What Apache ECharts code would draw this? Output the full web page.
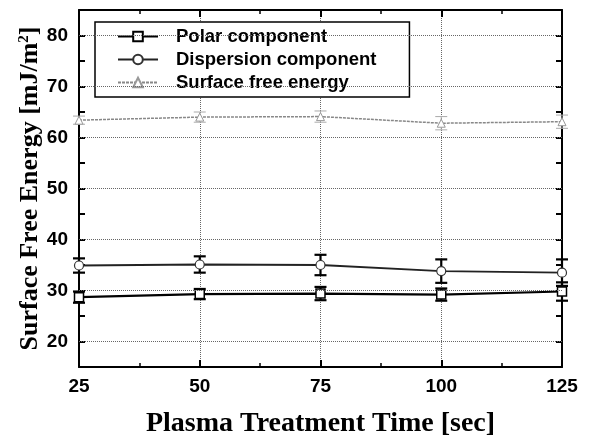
<!DOCTYPE html>
<html><head><meta charset="utf-8">
<script src="https://cdn.jsdelivr.net/npm/echarts@6/dist/echarts.min.js"></script>
<style>html,body{margin:0;padding:0;background:#fff}#c{width:599px;height:439px}</style>
</head><body><div id="c"></div>
<script>
const times = [25, 50, 75, 100, 125];
const polar = [28.7, 29.3, 29.4, 29.2, 29.8];
const polarErr = [1.1, 1.0, 1.3, 1.2, 1.8];
const dispersion = [34.9, 35.1, 35.0, 33.8, 33.5];
const dispersionErr = [1.4, 1.6, 2.0, 2.3, 2.6];
const surface = [63.4, 64.0, 64.1, 62.8, 63.1];
const surfaceErr = [0.8, 1.0, 1.1, 1.3, 1.3];
const yGrid = [20, 30, 40, 50, 60, 70, 80];
const names = ['Polar component', 'Dispersion component', 'Surface free energy'];

const chart = echarts.init(document.getElementById('c'), null, {renderer: 'canvas'});
const pts = (vals) => times.map((t, i) => [t, vals[i]]);
const errs = (vals, e) => times.map((t, i) => [t, vals[i] - e[i], vals[i] + e[i]]);
function errSeries(data, color, w) {
  return {
    type: 'custom', data: data, clip: false, silent: true, z: 3,
    renderItem: function (params, api) {
      const x = api.value(0), lo = api.value(1), hi = api.value(2);
      const a = api.coord([x, lo]), b = api.coord([x, hi]);
      const cw = 6;
      const st = {stroke: color, lineWidth: w};
      return {type: 'group', children: [
        {type: 'line', shape: {x1: a[0], y1: a[1], x2: b[0], y2: b[1]}, style: st},
        {type: 'line', shape: {x1: a[0] - cw, y1: a[1], x2: a[0] + cw, y2: a[1]}, style: st},
        {type: 'line', shape: {x1: b[0] - cw, y1: b[1], x2: b[0] + cw, y2: b[1]}, style: st}
      ]};
    }
  };
}
const tickFont = {fontFamily: 'Liberation Sans', fontWeight: 'bold', fontSize: 19, color: '#000'};
const axisLineStyle = {color: '#000', width: 2};
chart.setOption({
  animation: false,
  backgroundColor: '#fff',
  grid: {left: 79, right: 37, top: 10, bottom: 72, containLabel: false, outerBoundsMode: 'none'},
  legend: {
    data: names, orient: 'vertical', left: 95, top: 22,
    backgroundColor: '#fff', borderColor: '#000', borderWidth: 1.5, borderRadius: 0,
    padding: [5, 33, 5, 22], itemWidth: 40, itemHeight: 12, itemGap: 4,
    textStyle: {fontFamily: 'Liberation Sans', fontWeight: 'bold', fontSize: 18.5, lineHeight: 19, color: '#000', padding: [0, 0, 0, 13]}
  },
  xAxis: [{
    type: 'value', min: 25, max: 125, interval: 25,
    name: 'Plasma Treatment Time [sec]', nameLocation: 'middle', nameGap: 43,
    nameTextStyle: {fontFamily: 'Liberation Serif', fontWeight: 'bold', fontSize: 28, color: '#000'},
    axisLine: {show: true, onZero: false, lineStyle: axisLineStyle},
    axisTick: {inside: true, length: 7, lineStyle: {color: '#000', width: 2}},
    minorTick: {show: true, splitNumber: 2, length: 4, lineStyle: {color: '#000', width: 1.5}},
    axisLabel: Object.assign({margin: 10}, tickFont),
    splitLine: {show: true, lineStyle: {type: 'dotted', color: '#666', width: 1}}
  }, {
    type: 'value', min: 25, max: 125, interval: 25, position: 'top',
    axisLine: {show: true, onZero: false, lineStyle: axisLineStyle},
    axisTick: {inside: true, length: 7, lineStyle: {color: '#000', width: 2}},
    minorTick: {show: true, splitNumber: 2, length: 4, lineStyle: {color: '#000', width: 1.5}},
    axisLabel: {show: false}, splitLine: {show: false}
  }],
  yAxis: [{
    type: 'value', min: 15, max: 85, interval: 5,
    name: '{a|Surface Free Energy [mJ/m}{s|2}{a|]}', nameLocation: 'middle', nameGap: 36,
    nameMoveOverlap: false,
    nameTextStyle: {
      rich: {
        a: {fontFamily: 'Liberation Serif', fontWeight: 'bold', fontSize: 26, color: '#000'},
        s: {fontFamily: 'Liberation Serif', fontWeight: 'bold', fontSize: 15, color: '#000', verticalAlign: 'top', padding: [0, 0, 10, 0]}
      }
    },
    axisLine: {show: true, onZero: false, lineStyle: axisLineStyle},
    axisTick: {inside: true, length: 6, lineStyle: {color: '#000', width: 2}},
    axisLabel: Object.assign({margin: 11, formatter: v => (v % 10 === 0 ? String(v) : '')}, tickFont),
    splitLine: {show: false}
  }, {
    type: 'value', min: 15, max: 85, interval: 5, position: 'right',
    axisLine: {show: true, onZero: false, lineStyle: axisLineStyle},
    axisTick: {inside: true, length: 6, lineStyle: {color: '#000', width: 2}},
    axisLabel: {show: false}, splitLine: {show: false}
  }],
  series: [
    {
      name: names[0], type: 'line', data: pts(polar), z: 4,
      symbol: 'rect', symbolSize: 9, showAllSymbol: true,
      itemStyle: {color: '#fff', borderColor: '#000', borderWidth: 1.5},
      lineStyle: {color: '#000', width: 2.2},
      markLine: {
        silent: true, symbol: 'none', label: {show: false},
        lineStyle: {type: 'dotted', color: '#666', width: 1},
        data: yGrid.map(v => ({yAxis: v}))
      }
    },
    {
      name: names[1], type: 'line', data: pts(dispersion), z: 4,
      symbol: 'circle', symbolSize: 9,
      itemStyle: {color: '#fff', borderColor: '#333', borderWidth: 1.2},
      lineStyle: {color: '#222', width: 1.8}
    },
    {
      name: names[2], type: 'line', data: pts(surface), z: 4,
      symbol: 'triangle', symbolSize: 8,
      itemStyle: {color: '#fff', borderColor: '#999', borderWidth: 1},
      lineStyle: {color: '#888', width: 1.5, type: [3, 1]}
    },
    errSeries(errs(polar, polarErr), '#000', 2.2),
    errSeries(errs(dispersion, dispersionErr), '#000', 2.2),
    errSeries(errs(surface, surfaceErr), '#aaa', 1)
  ]
});
</script></body></html>
